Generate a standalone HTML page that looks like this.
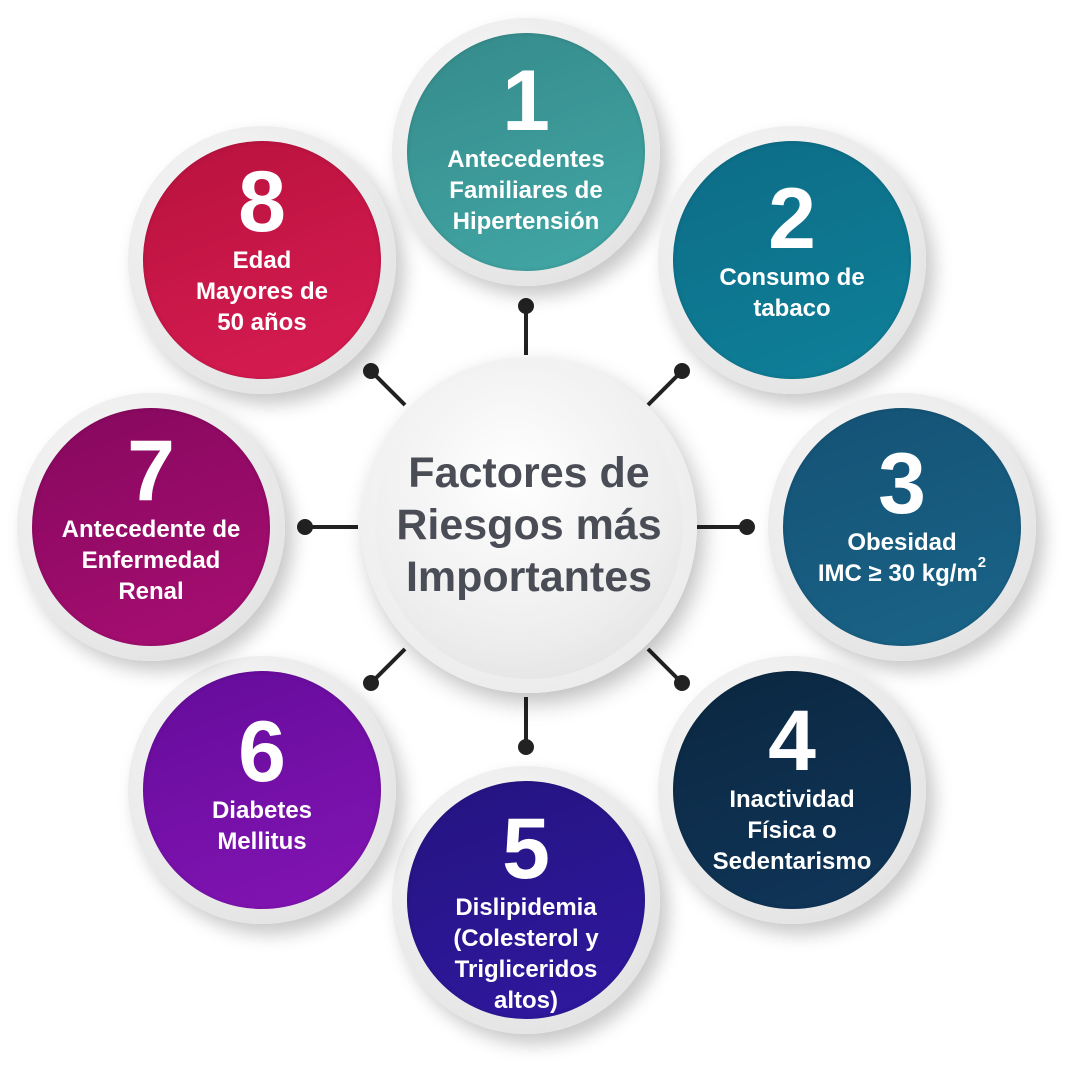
<!DOCTYPE html>
<html><head><meta charset="utf-8"><style>
html,body{margin:0;padding:0;background:#fff;}
#c{position:relative;width:1076px;height:1082px;overflow:hidden;font-family:"Liberation Sans",sans-serif;}
.ring{position:absolute;width:268px;height:268px;border-radius:50%;background:radial-gradient(circle at 40% 35%,#fafafa,#e6e6e6 70%,#dcdcdc);box-shadow:8px 10px 18px rgba(0,0,0,0.22);}
.in{position:absolute;left:15px;top:15px;width:238px;height:238px;border-radius:50%;display:flex;flex-direction:column;align-items:center;justify-content:center;color:#fff;text-align:center;font-weight:bold;box-shadow:inset 0 0 4px rgba(0,0,0,0.15);box-sizing:border-box;}
.n{font-size:86px;line-height:74px;margin-bottom:6px;}
.t{font-size:24px;line-height:31px;white-space:nowrap;}
#ctr{position:absolute;left:361px;top:357px;width:336px;height:336px;border-radius:50%;background:radial-gradient(circle at 45% 40%,#fdfdfd,#ececec 75%,#dedede);box-shadow:6px 10px 22px rgba(0,0,0,0.25);}
#ctri{position:absolute;left:14px;top:14px;width:308px;height:308px;border-radius:50%;background:radial-gradient(circle at 45% 35%,#ffffff,#eeeeee 60%,#dcdcdc);display:flex;align-items:center;justify-content:center;text-align:center;color:#4a4d55;font-weight:bold;font-size:43px;line-height:52px;}
</style></head><body><div id="c">
<svg width="1076" height="1082" style="position:absolute;left:0;top:0">
<g stroke="#222" stroke-width="4" fill="#222">
<line x1="526" y1="306" x2="526" y2="355"/><circle cx="526" cy="306" r="6"/>
<line x1="682" y1="371" x2="648" y2="405"/><circle cx="682" cy="371" r="6"/>
<line x1="747" y1="527" x2="697" y2="527"/><circle cx="747" cy="527" r="6"/>
<line x1="682" y1="683" x2="648" y2="649"/><circle cx="682" cy="683" r="6"/>
<line x1="526" y1="747" x2="526" y2="697"/><circle cx="526" cy="747" r="6"/>
<line x1="371" y1="683" x2="405" y2="649"/><circle cx="371" cy="683" r="6"/>
<line x1="305" y1="527" x2="358" y2="527"/><circle cx="305" cy="527" r="6"/>
<line x1="371" y1="371" x2="405" y2="405"/><circle cx="371" cy="371" r="6"/>
</g></svg>
<div id="ctr"><div id="ctri">Factores de<br>Riesgos más<br>Importantes</div></div>

<div class="ring" style="left:392px;top:18px"><div class="in" style="background:linear-gradient(160deg,#358a8a,#42a8a6);padding-bottom:4px"><div class="n">1</div><div class="t">Antecedentes<br>Familiares de<br>Hipertensión</div></div></div>
<div class="ring" style="left:658px;top:126px"><div class="in" style="background:linear-gradient(160deg,#0d6c86,#0f8099);padding-bottom:14px"><div class="n">2</div><div class="t">Consumo de<br>tabaco</div></div></div>
<div class="ring" style="left:768px;top:393px"><div class="in" style="background:linear-gradient(160deg,#145275,#1a6488);padding-bottom:16px"><div class="n">3</div><div class="t">Obesidad<br>IMC ≥ 30 kg/m<span style="font-size:15px;position:relative;top:-14px">2</span></div></div></div>
<div class="ring" style="left:658px;top:656px"><div class="in" style="background:linear-gradient(160deg,#0b2740,#10365a)"><div class="n">4</div><div class="t">Inactividad<br>Física o<br>Sedentarismo</div></div></div>
<div class="ring" style="left:392px;top:766px"><div class="in" style="background:linear-gradient(160deg,#241480,#3018a0);padding-top:28px"><div class="n">5</div><div class="t">Dislipidemia<br>(Colesterol y<br>Trigliceridos<br>altos)</div></div></div>
<div class="ring" style="left:128px;top:656px"><div class="in" style="background:linear-gradient(160deg,#640c9a,#8414b4);padding-bottom:8px"><div class="n">6</div><div class="t">Diabetes<br>Mellitus</div></div></div>
<div class="ring" style="left:17px;top:393px"><div class="in" style="background:linear-gradient(160deg,#86085e,#a80e72);padding-bottom:14px"><div class="n">7</div><div class="t">Antecedente de<br>Enfermedad<br>Renal</div></div></div>
<div class="ring" style="left:128px;top:126px"><div class="in" style="background:linear-gradient(160deg,#b8123e,#d81c52);padding-bottom:18px"><div class="n">8</div><div class="t">Edad<br>Mayores de<br>50 años</div></div></div>
</div></body></html>
